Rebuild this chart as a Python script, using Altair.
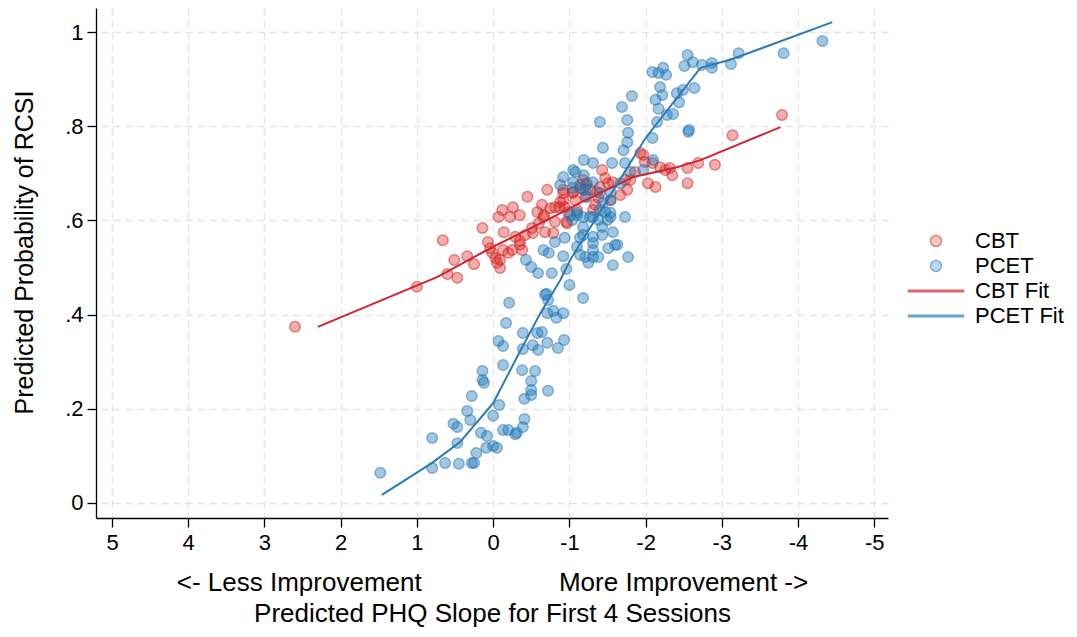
import altair as alt
import pandas as pd

# ---- data ----
cbt_x = [2.60, 1.00, 0.66, 0.60, 0.47, 0.51, 0.34, 0.25, 0.14, 0.07, 0.04, 0.01, -0.03, -0.09, -0.09,
         -0.05, -0.13, -0.14, -0.20, -0.25, -0.29, -0.35, -0.38, -0.35, -0.42, -0.45, -0.51, -0.52,
         -0.58, -0.60, -0.64, -0.67, -0.68, -0.71, -0.75, -0.79, -0.81, -0.87, -0.92, -0.96, -0.98,
         -1.04, -1.08, -1.14, -1.18, -1.21, -0.12, -0.07, -0.26, -0.35, -0.22, -1.93, -1.97, -1.99,
         -2.09, -2.19, -2.26, -2.32, -2.35, -2.55, -2.69, -2.91, -2.55, -2.13, -2.03, -1.76, -1.80,
         -1.43, -1.47, -1.51, -1.36, -1.38, -1.34, -1.31, -1.23, -1.18, -1.05, -0.92, -0.94, -0.97,
         -1.10, -0.88, -1.40, -1.57, -1.73, -3.14, -3.79, -0.66, -0.81, -0.92, -1.27, -1.54, -1.67,
         -1.86]
cbt_y = [0.374, 0.459, 0.558, 0.486, 0.478, 0.516, 0.524, 0.507, 0.584, 0.554, 0.541, 0.531, 0.520,
         0.516, 0.499, 0.510, 0.537, 0.575, 0.531, 0.537, 0.565, 0.548, 0.537, 0.556, 0.569, 0.650,
         0.584, 0.573, 0.618, 0.594, 0.633, 0.611, 0.575, 0.665, 0.626, 0.573, 0.597, 0.628, 0.643,
         0.597, 0.618, 0.658, 0.643, 0.675, 0.686, 0.650, 0.622, 0.607, 0.628, 0.611, 0.607, 0.743,
         0.739, 0.724, 0.722, 0.713, 0.707, 0.711, 0.696, 0.711, 0.722, 0.718, 0.679, 0.671, 0.679,
         0.665, 0.686, 0.707, 0.690, 0.679, 0.660, 0.648, 0.633, 0.622, 0.679, 0.665, 0.660, 0.665,
         0.628, 0.594, 0.622, 0.639, 0.671, 0.681, 0.686, 0.781, 0.824, 0.607, 0.628, 0.658, 0.665,
         0.643, 0.654, 0.703]

pcet_x = [1.48, 0.80, 0.80, 0.63, 0.45, 0.47, 0.52, 0.47, 0.34, 0.30, 0.28, 0.28, 0.25, 0.22, 0.16,
          0.08, 0.09, 0.00, -0.05, 0.00, -0.08, 0.14, 0.14, 0.12, -0.13, -0.20, -0.29, -0.31, -0.39,
          -0.41, -0.13, -0.07, -0.13, -0.17, -0.21, -0.38, -0.41, -0.50, -0.50, -0.50, -0.55, -0.39,
          -0.39, -0.52, -0.59, -0.58, -0.64, -0.71, -0.72, -0.85, -0.93, -0.70, -0.72, -0.71, -0.79,
          -0.83, -0.92, -1.00, -1.18, -0.68, -0.43, -0.50, -0.59, -0.77, -0.66, -0.73, -0.81, -0.94,
          -0.92, -0.96, -1.25, -1.21, -1.38, -1.57, -1.77, -1.60, -1.51, -1.31, -1.73, -1.57, -1.43,
          -1.31, -1.38, -1.10, -1.18, -1.31, -1.54, -1.10, -1.47, -1.40, -0.92, -1.08, -0.88, -1.04,
          -1.19, -1.22, -1.10, -1.18, -1.04, -1.14, -1.40, -1.76, -2.56, -1.77, -1.76, -2.09, -1.44,
          -1.71, -1.56, -1.19, -1.31, -1.05, -1.73, -1.80, -1.97, -2.10, -1.05, -1.31, -1.21, -1.54,
          -1.67, -1.23, -1.14, -1.44, -1.54, -1.40, -1.01, -1.27, -1.54, -1.50, -1.43, -1.18, -1.31,
          -1.63, -1.14, -1.31, -1.69, -1.82, -2.09, -2.17, -2.23, -2.27, -2.19, -2.22, -2.13, -2.17,
          -2.28, -2.36, -2.15, -2.41, -2.44, -2.49, -2.64, -2.55, -2.51, -2.62, -2.74, -2.87, -2.87,
          -3.12, -3.22, -3.81, -4.32, -2.57]
pcet_y = [0.064, 0.074, 0.138, 0.085, 0.083, 0.127, 0.168, 0.161, 0.195, 0.176, 0.227, 0.085, 0.085,
          0.106, 0.149, 0.142, 0.117, 0.121, 0.117, 0.185, 0.208, 0.280, 0.261, 0.255, 0.155, 0.155,
          0.146, 0.149, 0.161, 0.178, 0.293, 0.344, 0.333, 0.382, 0.425, 0.282, 0.221, 0.259, 0.240,
          0.229, 0.280, 0.361, 0.327, 0.335, 0.325, 0.361, 0.363, 0.340, 0.238, 0.329, 0.346, 0.444,
          0.431, 0.403, 0.408, 0.393, 0.403, 0.463, 0.435, 0.442, 0.516, 0.501, 0.488, 0.488, 0.537,
          0.531, 0.554, 0.563, 0.524, 0.497, 0.510, 0.522, 0.522, 0.505, 0.522, 0.548, 0.541, 0.537,
          0.607, 0.575, 0.569, 0.552, 0.601, 0.544, 0.586, 0.607, 0.607, 0.616, 0.618, 0.658, 0.692,
          0.703, 0.675, 0.669, 0.696, 0.675, 0.611, 0.607, 0.601, 0.563, 0.809, 0.813, 0.788, 0.786,
          0.766, 0.775, 0.754, 0.749, 0.722, 0.728, 0.722, 0.707, 0.722, 0.703, 0.707, 0.728, 0.681,
          0.681, 0.665, 0.660, 0.679, 0.650, 0.669, 0.637, 0.643, 0.622, 0.611, 0.607, 0.616, 0.601,
          0.586, 0.569, 0.565, 0.548, 0.527, 0.522, 0.841, 0.864, 0.915, 0.913, 0.924, 0.909, 0.883,
          0.866, 0.856, 0.837, 0.824, 0.826, 0.809, 0.870, 0.851, 0.877, 0.881, 0.951, 0.928, 0.936,
          0.930, 0.934, 0.924, 0.932, 0.955, 0.955, 0.981, 0.792]

cbt_fit_x = [2.30, 0.73, 0.00, -0.71, -1.14, -1.57, -1.84, -2.41, -2.72, -3.77]
cbt_fit_y = [0.374, 0.480, 0.544, 0.601, 0.637, 0.671, 0.692, 0.713, 0.728, 0.798]
pcet_fit_x = [1.46, 0.80, 0.43, 0.00, -0.35, -0.62, -0.88, -1.01, -1.40, -2.00, -2.72, -3.11, -4.45]
pcet_fit_y = [0.017, 0.085, 0.130, 0.212, 0.321, 0.403, 0.473, 0.516, 0.618, 0.775, 0.924, 0.941, 1.021]

x_ticks = [5, 4, 3, 2, 1, 0, -1, -2, -3, -4, -5]
y_ticks = [0, 0.2, 0.4, 0.6, 0.8, 1]
series_names = ["CBT", "PCET", "CBT Fit", "PCET Fit"]

# ---- tables ----
pts = pd.DataFrame({
    "series": ["CBT"] * len(cbt_x) + ["PCET"] * len(pcet_x),
    "x": cbt_x + pcet_x,
    "y": cbt_y + pcet_y,
})
cbt_fit = pd.DataFrame({"x": cbt_fit_x, "y": cbt_fit_y})
pcet_fit = pd.DataFrame({"x": pcet_fit_x, "y": pcet_fit_y})

FONT = "Liberation Sans"
RED_LINE = "#cf2630"
BLUE_LINE = "#2b7bb5"
line_path = "M-5,-0.13L5,-0.13L5,0.13L-5,0.13Z"

nb = "\u00a0" * 19
x_title = ["<- Less Improvement" + nb + "More Improvement ->",
           "Predicted PHQ Slope for First 4 Sessions"]

xscale = alt.Scale(domain=[-5.18, 5.21], reverse=True, nice=False, zero=False)
yscale = alt.Scale(domain=[-0.032, 1.051], nice=False, zero=False)

xaxis = alt.Axis(values=x_ticks, labelExpr="'' + datum.value", title=x_title,
                 titleX=396, titleY=72, titleBaseline="alphabetic", titleAlign="center",
                 titleLineHeight=31, labelPadding=5, labelFlush=False)
yaxis = alt.Axis(values=y_ticks,
                 labelExpr="datum.value == 0 ? '0' : datum.value == 1 ? '1' : '.' + round(datum.value * 10)",
                 title="Predicted Probability of RCSI", titleAngle=270, titleX=-72, titleY=244,
                 titleBaseline="middle", titleAlign="center", titleFontSize=25,
                 labelPadding=4, labelFlush=False)

leg = alt.Legend(title=None, orient="none", legendX=829, legendY=222, padding=0,
                 labelFontSize=22, labelFont=FONT, labelColor="black", symbolSize=121,
                 symbolStrokeWidth=1.5, labelOffset=28, rowPadding=3, symbolOffset=0,
                 labelLimit=200)

points = alt.Chart(pts).mark_point(filled=True, size=110, strokeWidth=1.5).encode(
    x=alt.X("x:Q", scale=xscale, axis=xaxis),
    y=alt.Y("y:Q", scale=yscale, axis=yaxis),
    fill=alt.Fill("series:N", scale=alt.Scale(domain=series_names,
                  range=["rgba(230,40,40,0.55)", "rgba(30,125,190,0.6)", RED_LINE, BLUE_LINE]),
                  legend=leg),
    stroke=alt.Stroke("series:N", scale=alt.Scale(domain=series_names,
                      range=["rgba(200,30,30,0.75)", "rgba(30,110,170,0.75)", RED_LINE, BLUE_LINE]),
                      legend=leg),
    shape=alt.Shape("series:N", scale=alt.Scale(domain=series_names,
                    range=["circle", "circle", line_path, line_path]), legend=leg),
)

red_line = alt.Chart(cbt_fit).mark_line(color=RED_LINE, strokeWidth=2).encode(
    x=alt.X("x:Q", scale=xscale), y=alt.Y("y:Q", scale=yscale))
blue_line = alt.Chart(pcet_fit).mark_line(color=BLUE_LINE, strokeWidth=2).encode(
    x=alt.X("x:Q", scale=xscale), y=alt.Y("y:Q", scale=yscale))

chart = alt.layer(points, red_line, blue_line).properties(
    width=792, height=510,
    autosize=alt.AutoSizeParams(type="none"),
    padding={"left": 88, "top": 0, "right": 181, "bottom": 110},
).configure_view(stroke=None).configure_axis(
    labelFont=FONT, titleFont=FONT, labelFontSize=22, titleFontSize=26,
    labelColor="black", titleColor="black", titleFontWeight="normal",
    domainColor="black", domainWidth=1.3, tickColor="black", tickWidth=1.3, tickSize=9,
    gridColor="#e4e4e4", gridDash=[7, 5], gridWidth=1.3,
)

chart.save("out.html", embed_options={"renderer": "svg", "actions": False})
